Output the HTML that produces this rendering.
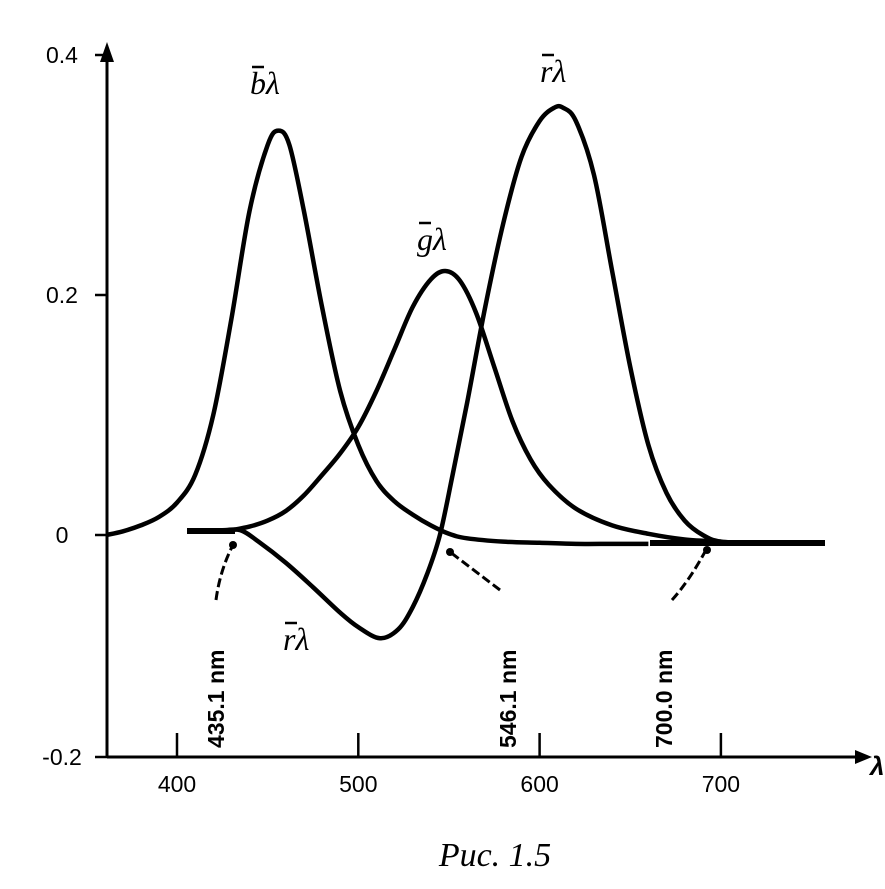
<!DOCTYPE html>
<html><head><meta charset="utf-8"><style>
html,body{margin:0;padding:0;background:#fff;}
svg{display:block;}
text{font-family:"Liberation Sans",sans-serif;fill:#000;}
text.serif{font-family:"Liberation Serif",serif;}
</style></head><body>
<svg id="chart" width="885" height="889" viewBox="0 0 885 889" xmlns="http://www.w3.org/2000/svg">
<g id="axes"></g>
<g id="series"></g>
<g id="labels"></g>
</svg>
<script>
const bLambda=[361,370,380,390,400,410,420,430,440,450,456,462,470,480,490,500,510,520,530,540,550,560,580,600,620,640,660];
const bValues=[0,0.003,0.008,0.015,0.027,0.05,0.1,0.18,0.27,0.325,0.337,0.325,0.27,0.19,0.12,0.075,0.045,0.028,0.017,0.008,0.001,-0.003,-0.006,-0.007,-0.008,-0.008,-0.008];
const gLambda=[430,440,450,460,470,480,490,500,510,520,530,540,548,556,565,575,585,595,605,620,640,660,680,700];
const gValues=[0.004,0.007,0.012,0.02,0.033,0.05,0.068,0.09,0.12,0.155,0.19,0.213,0.22,0.212,0.185,0.14,0.095,0.063,0.042,0.022,0.008,0.001,-0.004,-0.006];
const rLambda=[410,425,435,445,460,475,490,500,512,522,530,538,545,552,560,570,580,590,600,608,613,620,630,640,650,660,670,680,690,700,720,740,757];
const rValues=[0.004,0.004,0.004,-0.006,-0.025,-0.047,-0.07,-0.083,-0.093,-0.085,-0.065,-0.035,0,0.05,0.11,0.19,0.26,0.315,0.345,0.356,0.356,0.345,0.3,0.22,0.14,0.075,0.035,0.012,0,-0.006,-0.007,-0.007,-0.007];
const xTicks=[400,500,600,700];
const yTicks=[0.4,0.2,0,-0.2];
const yTickLabels=["0.4","0.2","0","-0.2"];

const NS="http://www.w3.org/2000/svg";
const xS=l=>177+(l-400)*1.813;
const yS=v=>v>=0?535-v*1200:535-v*1110;
function mk(tag,attrs,parent,txt){const e=document.createElementNS(NS,tag);for(const k in attrs)e.setAttribute(k,attrs[k]);if(txt!==undefined)e.textContent=txt;parent.appendChild(e);return e;}
const axes=document.getElementById('axes'),series=document.getElementById('series'),labels=document.getElementById('labels');

let a=mk('line',{x1:107,y1:757,x2:858,y2:757,stroke:'#000','stroke-width':3},axes);

a=mk('polygon',{points:'872,757 855,750 855,764',fill:'#000'},axes);

a=mk('line',{x1:107,y1:757,x2:107,y2:60,stroke:'#000','stroke-width':3},axes);

a=mk('polygon',{points:'107,42 100,62 114,62',fill:'#000'},axes);

a=mk('text',{x:870,y:775,'font-size':26,'font-style':'italic','font-weight':'bold'},axes,'λ');

xTicks.forEach(t=>{
  let l=mk('line',{x1:xS(t),y1:757,x2:xS(t),y2:733,stroke:'#000','stroke-width':2.5},axes);
  
  let tx=mk('text',{x:xS(t),y:792,'font-size':23,'text-anchor':'middle'},axes,String(t));
  
});
yTicks.forEach((t,i)=>{
  let l=mk('line',{x1:107,y1:yS(t),x2:95,y2:yS(t),stroke:'#000','stroke-width':2.5},axes);
  
  let tx=mk('text',{x:62,y:yS(t)+8,'font-size':23,'text-anchor':'middle'},axes,yTickLabels[i]);
  
});
function smooth(pts){let d='M'+pts[0][0]+','+pts[0][1];for(let i=0;i<pts.length-1;i++){const p0=pts[i-1]||pts[i],p1=pts[i],p2=pts[i+1],p3=pts[i+2]||p2;
d+=' C'+(p1[0]+(p2[0]-p0[0])/6)+','+(p1[1]+(p2[1]-p0[1])/6)+' '+(p2[0]-(p3[0]-p1[0])/6)+','+(p2[1]-(p3[1]-p1[1])/6)+' '+p2[0]+','+p2[1];}return d;}
function curve(L,V,name){const p=mk('path',{d:smooth(L.map((l,i)=>[xS(l),yS(V[i])])),fill:'none',stroke:'#000','stroke-width':4.5,'stroke-linejoin':'round'},series);
}
curve(bLambda,bValues,'b-curve');curve(gLambda,gValues,'g-curve');curve(rLambda,rValues,'r-curve');
a=mk('line',{x1:650,y1:543,x2:825,y2:543,stroke:'#000','stroke-width':6},series);

a=mk('line',{x1:187,y1:531,x2:235,y2:531,stroke:'#000','stroke-width':6},series);


function lead(d,name){const p=mk('path',{d:d,fill:'none',stroke:'#000','stroke-width':3,'stroke-dasharray':'9,4'},labels);}
lead('M216,600 Q220,570 233,545','leader-435');lead('M500,590 L450,552','leader-546');lead('M672,600 Q690,580 707,548','leader-700');
function dot(x,y,name){const c=mk('circle',{cx:x,cy:y,r:4,fill:'#000'},labels);}
dot(233,545,'point-435');dot(450,552,'point-546');dot(707,550,'point-700');
function vtext(x,y,s,name){const t=mk('text',{x:x,y:y,'font-size':23,'font-weight':'bold',transform:'rotate(-90 '+x+' '+y+')'},labels,s);}
vtext(224,748,'435.1 nm','label-435');vtext(516,748,'546.1 nm','label-546');vtext(672,748,'700.0 nm','label-700');
function clabel(x,y,s,name){const t=mk('text',{x:x,y:y,'font-size':32,'font-style':'italic','class':'serif'},labels,s);
const o=mk('line',{x1:x+2,y1:y-27,x2:x+14,y2:y-27,stroke:'#000','stroke-width':2.5},labels);}
clabel(250,94,'bλ','label-b');clabel(417,250,'gλ','label-g');clabel(540,82,'rλ','label-r');clabel(283,650,'rλ','label-r-negative');
a=mk('text',{x:495,y:866,'font-size':34,'font-style':'italic','text-anchor':'middle','class':'serif'},labels,'Рис. 1.5');

</script>
</body></html>
